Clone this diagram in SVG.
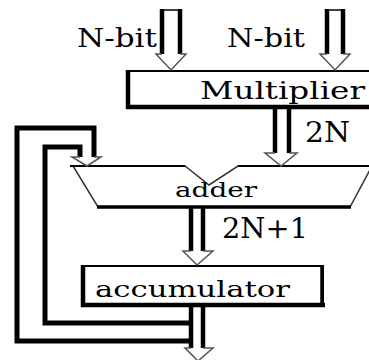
<svg xmlns="http://www.w3.org/2000/svg" width="369" height="360" viewBox="0 0 369 360">
<style>
.shaft{stroke:#000;stroke-width:4.5;fill:none;stroke-linecap:butt}
.head{stroke:#555;stroke-width:1.5;fill:none;stroke-linejoin:miter}
.cap{stroke:#000;stroke-width:1.5;fill:none}
.loop{stroke:#000;stroke-width:5;fill:none;stroke-linejoin:miter}
.box{fill:#fff;stroke:#000;stroke-width:2}
.thick{stroke:#000;stroke-width:4.5;fill:none}
.lbl{font-family:"DejaVu Serif","Liberation Serif",serif;fill:#000}
</style>
<rect width="369" height="360" fill="#fff"/>
<g id="multiplier">
<rect class="box" x="128" y="71" width="260" height="36"/>
<line class="thick" x1="128" y1="70" x2="128" y2="109"/>
<line class="thick" x1="126" y1="107" x2="369" y2="107"/>
<text class="lbl" x="200" y="99" font-size="25" textLength="165" lengthAdjust="spacingAndGlyphs">Multiplier</text>
</g>
<g id="adder">
<polygon points="73,166 185,166 209,185 238,166 372,166 350,207 98,207" fill="#fff" stroke="#333" stroke-width="1.5"/>
<line x1="70" y1="166" x2="185" y2="166" stroke="#000" stroke-width="2"/>
<line x1="238" y1="166" x2="369" y2="166" stroke="#000" stroke-width="2"/>
<line x1="97" y1="207" x2="351" y2="207" stroke="#000" stroke-width="3.5"/>
<text class="lbl" x="175" y="197" font-size="21" textLength="82" lengthAdjust="spacingAndGlyphs">adder</text>
</g>
<g id="accumulator">
<rect class="box" x="83" y="266" width="240" height="39"/>
<line class="thick" x1="83" y1="265" x2="83" y2="307"/>
<line class="thick" x1="81" y1="305" x2="325" y2="305"/>
<line x1="322" y1="265" x2="322" y2="307" stroke="#000" stroke-width="3.5"/>
<text class="lbl" x="95" y="297" font-size="23" textLength="195" lengthAdjust="spacingAndGlyphs">accumulator</text>
</g>
<g id="labels">
<text class="lbl" x="77" y="47" font-size="26" textLength="80" lengthAdjust="spacingAndGlyphs">N-bit</text>
<text class="lbl" x="227" y="47" font-size="26" textLength="78" lengthAdjust="spacingAndGlyphs">N-bit</text>
<text class="lbl" x="305" y="142" font-size="27" textLength="45" lengthAdjust="spacingAndGlyphs">2N</text>
<text class="lbl" x="222" y="238" font-size="27" textLength="86" lengthAdjust="spacingAndGlyphs">2N+1</text>
</g>
<g id="connectors">
<line class="cap" x1="160" y1="10" x2="182" y2="10"/>
<line class="shaft" x1="162" y1="9" x2="162" y2="54"/>
<line class="shaft" x1="180" y1="9" x2="180" y2="54"/>
<polyline class="head" points="162,54 156,54 171,70 186,54 180,54"/>
<line class="cap" x1="325" y1="10" x2="345" y2="10"/>
<line class="shaft" x1="327" y1="9" x2="327" y2="54"/>
<line class="shaft" x1="343" y1="9" x2="343" y2="54"/>
<polyline class="head" points="327,54 320,54 335,70 350,54 343,54"/>
<line class="shaft" x1="275" y1="107" x2="275" y2="153"/>
<line class="shaft" x1="289" y1="107" x2="289" y2="153"/>
<polyline class="head" points="275,153 265,153 281,166 297,153 289,153"/>
<line class="shaft" x1="191" y1="207" x2="191" y2="251"/>
<line class="shaft" x1="203" y1="207" x2="203" y2="251"/>
<polyline class="head" points="191,251 183,251 197,265 213,251 203,251"/>
<line class="shaft" x1="191" y1="305" x2="191" y2="348"/>
<line class="shaft" x1="203" y1="305" x2="203" y2="348"/>
<polyline class="head" points="191,348 185,348 198,361 213,348 203,348"/>
<path class="loop" d="M94,157 V128 H17 V341 H193"/>
<path class="loop" d="M80,157 V147 H45 V323 H193"/>
<polyline class="head" points="80,157 72,157 87,166 101,157 94,157"/>
</g>
</svg>
